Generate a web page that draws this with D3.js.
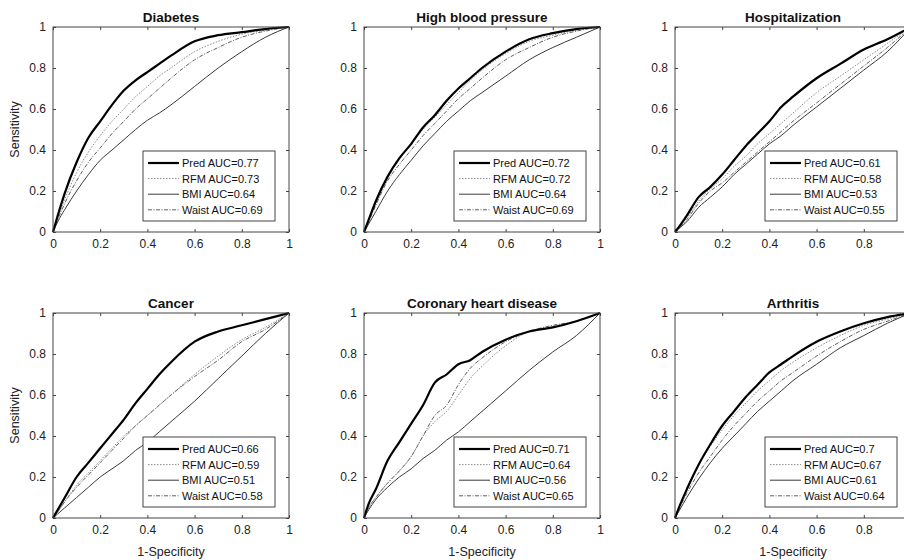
<!DOCTYPE html>
<html>
<head>
    <title>ROC curves</title>
    <script src="https://cdnjs.cloudflare.com/ajax/libs/d3/7.8.5/d3.min.js"></script>
    <style>
        body { margin: 0; background: #fff; }
        svg { font-family: "Liberation Sans", Arial, sans-serif; display: block; }
        .tick text { font-size: 12px; fill: #222; }
        .domain { display: none; }
        .tick line { stroke: #444; }
    </style>
</head>
<body>
    <div id="chart"></div>
    <script>
        // data
        const titles = ["Diabetes", "High blood pressure", "Hospitalization",
                        "Cancer", "Coronary heart disease", "Arthritis"];
        const fpr = [0, 0.02, 0.05, 0.1, 0.15, 0.2, 0.25, 0.3, 0.35, 0.4, 0.45, 0.5, 0.6, 0.7, 0.8, 0.9, 1];

        const predTPR = [
            [0, 0.08, 0.19, 0.34, 0.46, 0.54, 0.62, 0.69, 0.74, 0.78, 0.82, 0.86, 0.93, 0.96, 0.975, 0.99, 1],
            [0, 0.06, 0.15, 0.27, 0.36, 0.43, 0.51, 0.57, 0.64, 0.70, 0.75, 0.80, 0.88, 0.94, 0.97, 0.99, 1],
            [0, 0.03, 0.08, 0.17, 0.22, 0.28, 0.35, 0.42, 0.48, 0.54, 0.61, 0.66, 0.75, 0.82, 0.89, 0.94, 1],
            [0, 0.04, 0.10, 0.20, 0.27, 0.34, 0.41, 0.48, 0.56, 0.63, 0.70, 0.76, 0.86, 0.91, 0.94, 0.97, 1],
            [0, 0.07, 0.14, 0.28, 0.37, 0.46, 0.55, 0.66, 0.70, 0.75, 0.77, 0.81, 0.87, 0.91, 0.93, 0.96, 1],
            [0, 0.06, 0.14, 0.26, 0.36, 0.45, 0.52, 0.59, 0.65, 0.71, 0.75, 0.79, 0.86, 0.91, 0.95, 0.98, 1]
        ];
        const rfmTPR = [
            [0, 0.07, 0.16, 0.29, 0.39, 0.47, 0.54, 0.60, 0.66, 0.71, 0.76, 0.80, 0.88, 0.93, 0.965, 0.985, 1],
            [0, 0.06, 0.15, 0.27, 0.36, 0.43, 0.50, 0.56, 0.62, 0.68, 0.74, 0.79, 0.87, 0.93, 0.96, 0.985, 1],
            [0, 0.03, 0.07, 0.15, 0.21, 0.26, 0.32, 0.37, 0.43, 0.48, 0.53, 0.58, 0.68, 0.76, 0.84, 0.92, 1],
            [0, 0.03, 0.08, 0.16, 0.22, 0.28, 0.34, 0.40, 0.45, 0.50, 0.55, 0.60, 0.70, 0.79, 0.87, 0.93, 1],
            [0, 0.05, 0.10, 0.17, 0.23, 0.30, 0.40, 0.47, 0.52, 0.60, 0.68, 0.74, 0.84, 0.91, 0.93, 0.96, 1],
            [0, 0.06, 0.14, 0.26, 0.35, 0.43, 0.50, 0.56, 0.62, 0.67, 0.72, 0.76, 0.83, 0.89, 0.94, 0.97, 1]
        ];
        const bmiTPR = [
            [0, 0.05, 0.11, 0.20, 0.28, 0.35, 0.40, 0.45, 0.50, 0.545, 0.58, 0.62, 0.71, 0.80, 0.88, 0.95, 1],
            [0, 0.04, 0.10, 0.20, 0.28, 0.35, 0.42, 0.48, 0.54, 0.59, 0.64, 0.68, 0.76, 0.84, 0.90, 0.95, 1],
            [0, 0.02, 0.05, 0.12, 0.17, 0.22, 0.28, 0.33, 0.38, 0.43, 0.47, 0.52, 0.61, 0.70, 0.79, 0.88, 1],
            [0, 0.02, 0.05, 0.10, 0.15, 0.20, 0.24, 0.28, 0.33, 0.37, 0.42, 0.47, 0.57, 0.68, 0.79, 0.90, 1],
            [0, 0.04, 0.09, 0.15, 0.20, 0.24, 0.29, 0.33, 0.38, 0.42, 0.47, 0.52, 0.62, 0.72, 0.81, 0.89, 1],
            [0, 0.04, 0.10, 0.19, 0.27, 0.34, 0.40, 0.46, 0.52, 0.57, 0.62, 0.67, 0.75, 0.83, 0.89, 0.95, 1]
        ];
        const waistTPR = [
            [0, 0.06, 0.14, 0.25, 0.34, 0.41, 0.48, 0.54, 0.60, 0.65, 0.70, 0.75, 0.84, 0.90, 0.95, 0.98, 1],
            [0, 0.05, 0.13, 0.25, 0.33, 0.40, 0.47, 0.53, 0.59, 0.65, 0.70, 0.75, 0.84, 0.90, 0.95, 0.98, 1],
            [0, 0.02, 0.06, 0.14, 0.20, 0.24, 0.29, 0.34, 0.39, 0.44, 0.49, 0.54, 0.63, 0.72, 0.81, 0.90, 1],
            [0, 0.03, 0.08, 0.15, 0.21, 0.27, 0.33, 0.39, 0.45, 0.50, 0.55, 0.60, 0.69, 0.77, 0.86, 0.92, 1],
            [0, 0.05, 0.10, 0.17, 0.23, 0.30, 0.40, 0.50, 0.55, 0.65, 0.73, 0.78, 0.86, 0.91, 0.94, 0.96, 1],
            [0, 0.05, 0.12, 0.22, 0.30, 0.38, 0.45, 0.51, 0.57, 0.62, 0.67, 0.71, 0.79, 0.86, 0.92, 0.96, 1]
        ];

        const predAUC  = ["0.77", "0.72", "0.61", "0.66", "0.71", "0.7"];
        const rfmAUC   = ["0.73", "0.72", "0.58", "0.59", "0.64", "0.67"];
        const bmiAUC   = ["0.64", "0.64", "0.53", "0.51", "0.56", "0.61"];
        const waistAUC = ["0.69", "0.69", "0.55", "0.58", "0.65", "0.64"];

        const tickVals = [0, 0.2, 0.4, 0.6, 0.8, 1];

        // layout
        const colLeft = [53, 364, 675];
        const rowTop = [27, 313];
        const pw = 236, ph = 205;

        // line styles per series
        const styles = [
            {name: "Pred",  color: "#000",  width: 2.2, dash: null},
            {name: "RFM",   color: "#8a8a8a", width: 1, dash: "1.5,1.5"},
            {name: "BMI",   color: "#3a3a3a", width: 1, dash: null},
            {name: "Waist", color: "#5e5e5e", width: 1, dash: "4,1.5,1,1.5"}
        ];

        const svg = d3.select("#chart").append("svg")
            .attr("width", 904)
            .attr("height", 560);

        const x = d3.scaleLinear().domain([0, 1]).range([0, pw]);
        const y = d3.scaleLinear().domain([0, 1]).range([ph, 0]);
        const fmt = d3.format("~g");

        const line = d3.line()
            .curve(d3.curveMonotoneX)
            .x(d => x(d[0]))
            .y(d => y(d[1]));

        titles.forEach((title, i) => {
            const col = i % 3, row = Math.floor(i / 3);
            const g = svg.append("g")
                .attr("transform", `translate(${colLeft[col]},${rowTop[row]})`);

            // the right column runs past the page edge, so its "1" label is not shown
            const xFmt = col === 2 ? (d => d === 1 ? "" : fmt(d)) : fmt;

            // axes (ticks drawn inward like MATLAB)
            g.append("g")
                .attr("transform", `translate(0,${ph})`)
                .call(d3.axisBottom(x).tickValues(tickVals).tickSize(-3).tickPadding(7).tickFormat(xFmt));
            g.append("g")
                .call(d3.axisLeft(y).tickValues(tickVals).tickSize(-3).tickPadding(7).tickFormat(fmt));
            g.append("g")
                .call(d3.axisTop(x).tickValues(tickVals).tickSize(-3).tickFormat(""));
            g.append("g")
                .attr("transform", `translate(${pw},0)`)
                .call(d3.axisRight(y).tickValues(tickVals).tickSize(-3).tickFormat(""));

            const series = [predTPR[i], rfmTPR[i], bmiTPR[i], waistTPR[i]];
            const aucs = [predAUC[i], rfmAUC[i], bmiAUC[i], waistAUC[i]];

            // draw curves back to front so Pred sits on top
            [3, 2, 1, 0].forEach(k => {
                const pts = fpr.map((f, j) => [f, series[k][j]]);
                g.append("path")
                    .datum(pts)
                    .attr("fill", "none")
                    .attr("stroke", styles[k].color)
                    .attr("stroke-width", styles[k].width)
                    .attr("stroke-dasharray", styles[k].dash)
                    .attr("stroke-linejoin", "round")
                    .attr("d", line);
            });

            // axis box
            g.append("rect")
                .attr("width", pw)
                .attr("height", ph)
                .attr("fill", "none")
                .attr("stroke", "#444")
                .attr("stroke-width", 1);

            // title
            g.append("text")
                .attr("x", pw / 2)
                .attr("y", -5)
                .attr("text-anchor", "middle")
                .style("font-size", "13.5px")
                .style("font-weight", "bold")
                .style("fill", "#111")
                .text(title);

            // legend
            const lw = 132, lh = 70;
            const leg = g.append("g")
                .attr("transform", `translate(${pw - 14 - lw},${124})`);
            leg.append("rect")
                .attr("width", lw)
                .attr("height", lh)
                .attr("fill", "#fff")
                .attr("stroke", "#444")
                .attr("stroke-width", 1);
            styles.forEach((s, k) => {
                const ly = 12 + k * 15.6;
                leg.append("line")
                    .attr("x1", 5).attr("x2", 36)
                    .attr("y1", ly).attr("y2", ly)
                    .attr("stroke", s.color)
                    .attr("stroke-width", s.width)
                    .attr("stroke-dasharray", s.dash);
                leg.append("text")
                    .attr("x", 39)
                    .attr("y", ly + 4)
                    .style("font-size", "11px")
                    .style("fill", "#111")
                    .text(`${s.name} AUC=${aucs[k]}`);
            });

            if (col === 0) {
                g.append("text")
                    .attr("transform", "rotate(-90)")
                    .attr("x", -ph / 2)
                    .attr("y", -34)
                    .attr("text-anchor", "middle")
                    .style("font-size", "12.5px")
                    .style("fill", "#222")
                    .text("Sensitivity");
            }
            if (row === 1) {
                g.append("text")
                    .attr("x", pw / 2)
                    .attr("y", ph + 38)
                    .attr("text-anchor", "middle")
                    .style("font-size", "12.5px")
                    .style("fill", "#222")
                    .text("1-Specificity");
            }
        });
    </script>
</body>
</html>
